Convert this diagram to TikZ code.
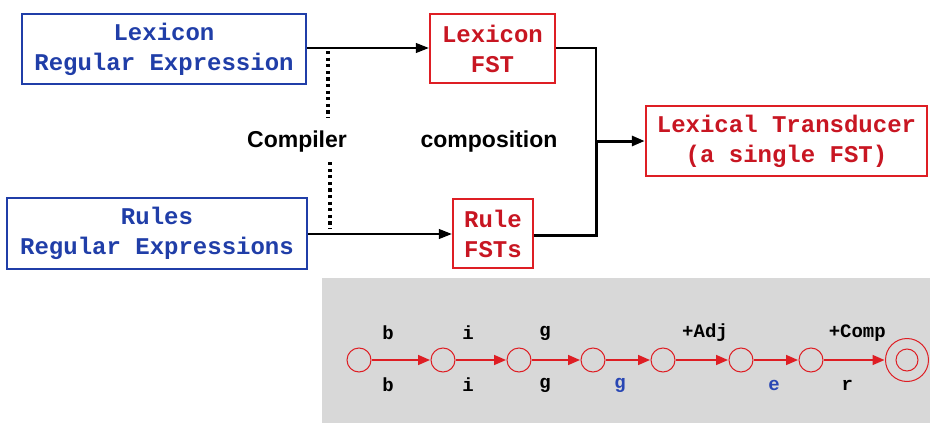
\documentclass[tikz,border=0pt]{standalone}
\usepackage{fontspec}
\setmainfont{Liberation Sans}
\setmonofont{Liberation Mono}
\usetikzlibrary{arrows.meta}
\definecolor{boxblue}{RGB}{32,62,168}
\definecolor{boxred}{RGB}{222,30,36}
\definecolor{txtred}{RGB}{200,22,34}
\definecolor{panelgray}{RGB}{216,216,216}
\definecolor{lblblue}{RGB}{40,70,180}
\tikzset{
  bluebox/.style={draw=boxblue, line width=2.5pt, text=boxblue, align=center, inner sep=0pt,
    font=\fontsize{24}{30}\selectfont\ttfamily\bfseries},
  redbox/.style={draw=boxred, line width=2.5pt, text=txtred, align=center, inner sep=0pt,
    font=\fontsize{24}{30}\selectfont\ttfamily\bfseries},
  conn/.style={line width=1.2pt, draw=black},
  thickconn/.style={line width=3pt, draw=black},
  arr/.style={-{Triangle[length=13pt,width=10pt]}},
  dotline/.style={draw=black, line width=3.2pt, dash pattern=on 3.2pt off 3.4pt},
  plain/.style={font=\fontsize{23}{26}\selectfont\bfseries, inner sep=0pt},
  state/.style={circle, draw=boxred, line width=1pt, minimum size=24pt, inner sep=0pt},
  fsedge/.style={draw=boxred, line width=1.6pt, -{Triangle[length=12pt,width=10pt]}, shorten <=0.5pt, shorten >=0.5pt},
  lbl/.style={font=\fontsize{19}{20}\selectfont\ttfamily\bfseries, inner sep=0pt, text=black},
  upl/.style={lbl, yshift=27pt},
  lowl/.style={lbl, yshift=-25pt},
}
\begin{document}
\begin{tikzpicture}[x=1pt, y=-1pt]
\useasboundingbox (0,0) rectangle (930,423);
\fill[white] (0,0) rectangle (930,423);
% upper part
\node[bluebox, minimum width=284pt, minimum height=70pt] (lexre) at (164,49) {Lexicon\\Regular Expression};
\node[bluebox, minimum width=300pt, minimum height=71pt] (rulere) at (157,233.5) {Rules\\Regular Expressions};
\node[redbox, minimum width=125pt, minimum height=69pt] (lexfst) at (492.5,48.5) {Lexicon\\FST};
\node[redbox, minimum width=80pt, minimum height=69pt] (rulefst) at (493,233.5) {Rule\\FSTs};
\node[redbox, minimum width=281pt, minimum height=70pt] (lextr) at (786.5,141) {Lexical Transducer\\(a single FST)};
\node[plain] (compiler) at (297,142) {Compiler};
\node[plain] (compos) at (489,142) {composition};
\coordinate (jn) at (596,141);
\coordinate (d1a) at (328,51);
\coordinate (d1b) at (328,118);
\coordinate (d2a) at (330,162);
\coordinate (d2b) at (330,229);
\draw[conn, arr] (lexre.east |- 0,48) -- (lexfst.west |- 0,48);
\draw[conn, arr] (rulere.east |- 0,234) -- (rulefst.west |- 0,234);
\draw[conn] (lexfst.east |- 0,48) -| (jn);
\draw[thickconn] (rulefst.east |- 0,235) -| (jn);
\draw[line width=2pt] (596,48) -- (596,235);
\draw[thickconn, arr] (jn) -- (lextr.west);
\draw[dotline] (d1a) -- (d1b);
\draw[dotline] (d2a) -- (d2b);
% lower panel
\fill[panelgray] (322,278) rectangle (930,423);
\node[state] (s1) at (359,360) {};
\node[state] (s2) at (443,360) {};
\node[state] (s3) at (519,360) {};
\node[state] (s4) at (593,360) {};
\node[state] (s5) at (663,360) {};
\node[state] (s6) at (741,360) {};
\node[state] (s7) at (811,360) {};
\node[state, minimum size=43pt] (s8) at (907,360) {};
\node[state, minimum size=22pt] (s8in) at (907,360) {};
\draw[fsedge] (s1) -- node[upl, xshift=-13pt]{b} node[lowl, xshift=-13pt]{b} (s2);
\draw[fsedge] (s2) -- node[upl, xshift=-13pt]{i} node[lowl, xshift=-13pt]{i} (s3);
\draw[fsedge] (s3) -- node[upl, xshift=-11pt]{g} node[lowl, xshift=-11pt]{g} (s4);
\draw[fsedge] (s4) -- node[lowl, xshift=-8pt, text=lblblue]{g} (s5);
\draw[fsedge] (s5) -- node[upl, xshift=3pt]{+Adj} (s6);
\draw[fsedge] (s6) -- node[lowl, xshift=-2pt, text=lblblue]{e} (s7);
\draw[fsedge] (s7) -- node[upl, xshift=3pt]{+Comp} node[lowl, xshift=-7pt]{r} (s8);
\end{tikzpicture}
\end{document}
